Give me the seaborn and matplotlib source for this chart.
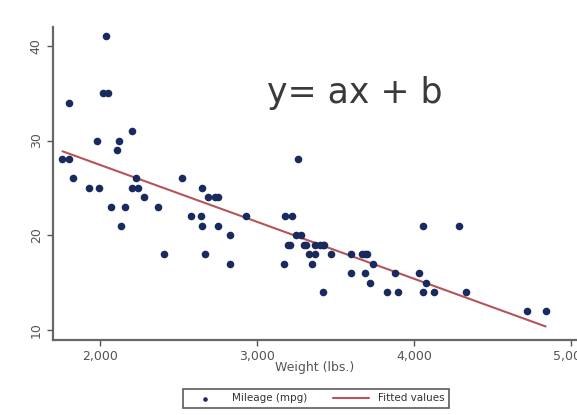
import numpy as np
import pandas as pd
import matplotlib.pyplot as plt
import seaborn as sns
from matplotlib.ticker import FuncFormatter

# car weight (lbs.) and mileage (mpg)
weight = [2930, 3350, 2640, 3250, 4080, 3670, 2230, 3280, 3880, 3400,
          4330, 3900, 4290, 2110, 3690, 3180, 3220, 2750, 3430, 2120,
          3600, 3600, 3740, 1800, 2650, 4840, 4720, 3830, 2580, 4060,
          3720, 3370, 4130, 2830, 4060, 3310, 3300, 3690, 3370, 2730,
          4030, 3260, 1800, 2200, 2520, 3330, 3700, 3470, 3210, 3200,
          3420, 2690, 2830, 2070, 2650, 2370, 2020, 2280, 2750, 2130,
          2240, 1760, 1980, 3420, 1830, 2050, 2410, 2200, 2670, 2160,
          2040, 1930, 1990, 3170]
mpg = [22, 17, 22, 20, 15, 18, 26, 20, 16, 19,
       14, 14, 21, 29, 16, 22, 22, 24, 19, 30,
       18, 16, 17, 28, 21, 12, 12, 14, 22, 14,
       15, 18, 14, 20, 21, 19, 19, 18, 19, 24,
       16, 28, 34, 25, 26, 18, 18, 18, 19, 19,
       19, 24, 17, 23, 25, 23, 35, 24, 21, 21,
       25, 28, 30, 14, 26, 35, 18, 31, 18, 23,
       41, 25, 25, 17]

df = pd.DataFrame({'weight': weight, 'mpg': mpg})

navy = '#1a2a5e'
maroon = '#b5545a'
grey = '#555555'

sns.set_style('white')
fig = plt.figure(figsize=(5.77, 4.15), dpi=100)
ax = fig.add_axes([0.092, 0.181, 0.908, 0.754])

sns.scatterplot(data=df, x='weight', y='mpg', color=navy, s=30, linewidth=0,
                label='Mileage (mpg)', ax=ax, zorder=3)
sns.regplot(data=df, x='weight', y='mpg', scatter=False, ci=None, truncate=True,
            label='Fitted values', line_kws={'color': maroon, 'lw': 1.5}, ax=ax)

ax.set_xlim(1700, 5040)
ax.set_ylim(8.94, 42.0)
ax.set_xticks([2000, 3000, 4000, 5000])
ax.set_yticks([10, 20, 30, 40])
ax.xaxis.set_major_formatter(FuncFormatter(lambda v, p: '{:,.0f}'.format(v)))
ax.tick_params(axis='both', direction='out', length=4, width=1, color=grey,
               labelcolor=grey, labelsize=9, bottom=True, left=True)
ax.tick_params(axis='y', labelrotation=90)
for lab in ax.get_yticklabels():
    lab.set_va('center')

for s in ['top', 'right']:
    ax.spines[s].set_visible(False)
for s in ['left', 'bottom']:
    ax.spines[s].set_color('#666666')
    ax.spines[s].set_linewidth(1.6)

ax.set_xlabel('Weight (lbs.)', fontsize=9, color=grey, labelpad=-2)
ax.set_ylabel('')

ax.text(0.408, 0.79, 'y= ax + b', fontsize=25, color='#3a3a3a',
        transform=ax.transAxes, ha='left', va='center')

handles, labels = ax.get_legend_handles_labels()
if ax.get_legend() is not None:
    ax.get_legend().remove()
leg = fig.legend(handles, labels, loc='center', bbox_to_anchor=(0.547, 0.04),
                 ncol=2, fontsize=7.5, frameon=True, fancybox=False,
                 edgecolor='#333333', handlelength=3.5, columnspacing=2.5,
                 borderpad=0.4, markerscale=0.6)
leg.get_frame().set_linewidth(1.2)
for t in leg.get_texts():
    t.set_color('#333333')

plt.savefig('out.png', dpi=100)
